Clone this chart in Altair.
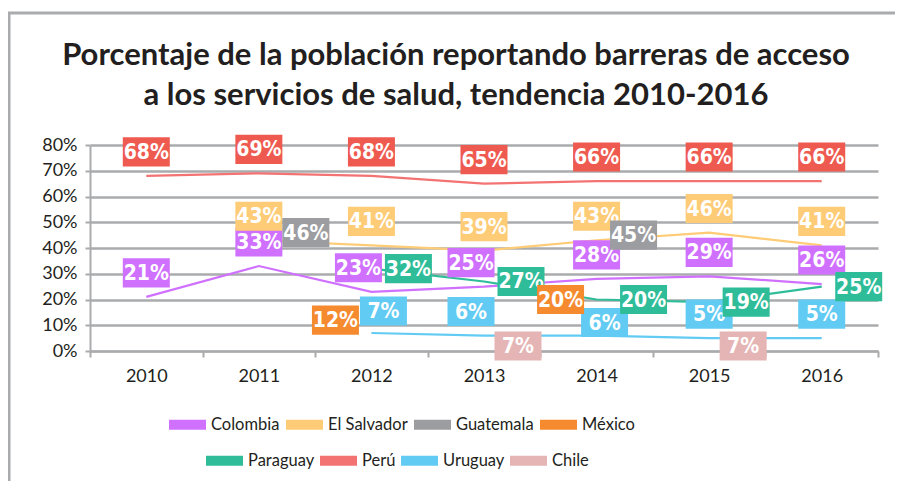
import altair as alt
import pandas as pd

years = ["2010", "2011", "2012", "2013", "2014", "2015", "2016"]
countries = ["Colombia", "El Salvador", "Guatemala", "México",
             "Paraguay", "Perú", "Uruguay", "Chile"]
colombia = [21, 33, 23, 25, 28, 29, 26]
el_salvador = [None, 43, 41, 39, 43, 46, 41]
guatemala = [None, 46, None, None, 45, None, None]
mexico = [None, None, 12, None, 20, None, None]
paraguay = [None, None, 32, 27, 20, 19, 25]
peru = [68, 69, 68, 65, 66, 66, 66]
uruguay = [None, None, 7, 6, 6, 5, 5]
chile = [None, None, None, 7, None, 7, None]
series = [colombia, el_salvador, guatemala, mexico, paraguay, peru, uruguay, chile]

# where each value label sits relative to its point
A, AL, AR, AD, R, RF, L, B = ("above", "above_l", "above_r", "above_low",
                              "right", "right_far", "left", "below")
placements = [
    [A, A, AL, AL, A, A, A],
    [A, A, A, A, A, A, A],
    [R, RF, R, R, R, R, R],
    [L, L, L, L, L, L, L],
    [R, R, R, R, RF, R, R],
    [A, A, A, A, A, A, A],
    [A, A, AR, AL, AD, A, A],
    [B, B, B, B, B, B, B],
]

line_colors = ["#d070ff", "#fecb76", "#9c9da0", "#f58a2f",
               "#2fbd99", "#f37272", "#62cbf3", "#e5b5b5"]
box_colors = ["#d070ff", "#fecb76", "#9c9da0", "#f58a2f",
              "#2fbd99", "#ef5a50", "#62cbf3", "#e5b5b5"]

row1 = countries[:4]
row2 = countries[4:]

rows = []
for c, vals, ps in zip(countries, series, placements):
    for y, v, p in zip(years, vals, ps):
        rows.append({"country": c, "year": y, "value": v, "place": p})
df = pd.DataFrame(rows)

FONT = "Lato"
LBL_FONT = "'DejaVu Sans Condensed', 'Roboto', sans-serif"
GRID = "#aaabad"
TXT = "#231f20"

x_enc = alt.X("year:N", sort=years, scale=alt.Scale(paddingInner=0, paddingOuter=0),
              axis=alt.Axis(title=None, labelAngle=0, tickBand="extent", domainColor=GRID,
                            domainWidth=2, tickColor=GRID, tickWidth=2, tickSize=6,
                            labelFont=FONT, labelFontSize=18, labelColor=TXT,
                            labelPadding=10, grid=False))
y_enc = alt.Y("value:Q", scale=alt.Scale(domain=[0, 80], nice=False),
              axis=alt.Axis(title=None, values=list(range(0, 81, 10)),
                            labelExpr="datum.value + '%'", grid=True, gridColor=GRID,
                            gridWidth=2.5, domainColor=GRID, domainWidth=2,
                            tickColor=GRID, tickWidth=2, tickSize=5,
                            labelFont=FONT, labelFontSize=18, labelColor=TXT,
                            labelPadding=8))

base = alt.Chart(df)

def legend_for(pos, pad):
    return alt.Legend(title=None, orient="none", direction="horizontal",
                      legendX=pos[0], legendY=pos[1], symbolType="stroke",
                      symbolSize=1369, symbolStrokeWidth=10, labelFont=FONT,
                      labelFontSize=16.5, labelColor=TXT, labelOffset=0,
                      columnPadding=pad, symbolOpacity=1)

lines1 = base.transform_filter(alt.FieldOneOfPredicate(field="country", oneOf=row1)).mark_line(
    strokeWidth=2.2).encode(
    x=x_enc, y=y_enc,
    stroke=alt.Stroke("country:N", sort=row1,
                      scale=alt.Scale(domain=row1, range=line_colors[:4]),
                      legend=legend_for((74, 256), -14)),
    detail="country:N")
lines2 = base.transform_filter(alt.FieldOneOfPredicate(field="country", oneOf=row2)).mark_line(
    strokeWidth=2.2).encode(
    x=x_enc, y=y_enc,
    stroke=alt.Stroke("country:N", sort=row2,
                      scale=alt.Scale(domain=row2, range=line_colors[4:]),
                      legend=legend_for((111, 292), -16)),
    detail="country:N")

offsets = {A: (0, -24), AL: (-13, -24), AR: (12, -22), AD: (8, -13),
           R: (37, 0), RF: (47, 0), L: (-36, 0), B: (34, 13)}
box_path = "M-1,-0.62L1,-0.62L1,0.62L-1,0.62Z"
label_layers = []
for place, (dx, dy) in offsets.items():
    sub = base.transform_filter(alt.datum.place == place).transform_filter(
        "isValid(datum.value)")
    box = sub.mark_point(shape=box_path, filled=True, size=47 * 47, opacity=1,
                         strokeWidth=0, xOffset=dx, yOffset=dy).encode(
        x=x_enc, y=y_enc,
        fill=alt.Fill("country:N", scale=alt.Scale(domain=countries, range=box_colors),
                      legend=None))
    txt = sub.mark_text(color="white", font=LBL_FONT, fontWeight="bold", fontSize=21,
                        dx=dx, dy=dy + 1, baseline="middle", align="center").encode(
        x=x_enc, y=y_enc, text=alt.Text("label:N")).transform_calculate(
        label="datum.value + '%'")
    label_layers += [box, txt]

frame_df = pd.DataFrame({"k": [0]})
frame_v = alt.Chart(frame_df).mark_rule(color=GRID, strokeWidth=3).encode(
    x=alt.value(-81), y=alt.value(-132), y2=alt.value(340))
frame_h = alt.Chart(frame_df).mark_rule(color=GRID, strokeWidth=3).encode(
    x=alt.value(-82), x2=alt.value(810), y=alt.value(-132))

chart = alt.layer(lines1, lines2, *label_layers, frame_v, frame_h).resolve_scale(
    stroke="independent"
).properties(
    width=788, height=206,
    title=alt.TitleParams(
        ["Porcentaje de la población reportando barreras de acceso",
         "a los servicios de salud, tendencia 2010-2016"],
        font=FONT, fontSize=31, fontWeight="bold", color=TXT, anchor="middle",
        dx=-28, offset=-100, lineHeight=40),
    autosize=alt.AutoSizeParams(type="none"),
    padding={"left": 82, "top": 137, "right": 17, "bottom": 130},
).configure_view(stroke=None)

chart.save("out.html", embed_options={"renderer": "svg", "actions": False})
